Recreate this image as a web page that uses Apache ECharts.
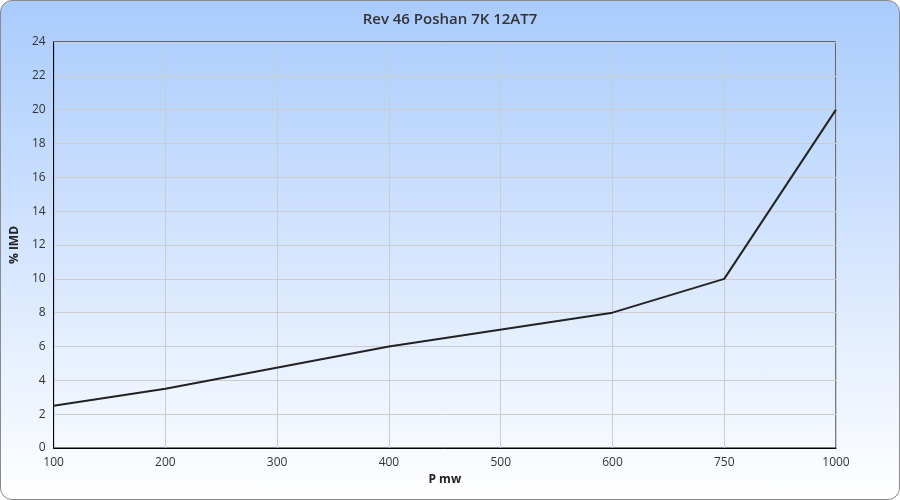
<!DOCTYPE html>
<html><head><meta charset="utf-8">
<script src="https://cdn.jsdelivr.net/npm/echarts@6/dist/echarts.min.js"></script>
<style>
html,body{margin:0;padding:0;background:#fff;}
#wrap{position:absolute;left:0;top:0;width:898px;height:498px;border:1px solid #8a8a8a;border-radius:12px;background:linear-gradient(to bottom,#a9cbfd 0%,#ffffff 100%);overflow:hidden;}
#c{width:898px;height:498px;}
</style></head><body>
<div id="wrap"><div id="c"></div></div>
<script>
var categories = ['100','200','300','400','500','600','750','1000'];
var imdValues = [2.5, 3.5, null, 6, null, 8, 10, 20];
var chart = echarts.init(document.getElementById('c'));
var font = '"Open Sans", sans-serif';
chart.setOption({
  backgroundColor: 'transparent',
  animation: false,
  title: { text: 'Rev 46 Poshan 7K 12AT7', left: 'center', top: 6,
    textStyle: { fontFamily: font, fontSize: 15, fontWeight: 600, color: '#333' } },
  grid: { left: 50, right: 63, top: 41, bottom: 51, show: true, borderColor: '#000', borderWidth: 1 },
  xAxis: { type: 'category', data: categories, boundaryGap: false,
    name: 'P mw', nameLocation: 'middle', nameGap: 23,
    nameTextStyle: { fontFamily: font, fontSize: 12, fontWeight: 'bold', color: '#222' },
    axisLine: { show: true, lineStyle: { color: '#000' } }, axisTick: { show: false },
    axisLabel: { fontFamily: font, fontSize: 12, color: '#333', margin: 9 },
    splitLine: { show: true, lineStyle: { color: '#cccccc', width: 1 } } },
  yAxis: { type: 'value', min: 0, max: 24, interval: 2,
    name: '% IMD', nameLocation: 'middle', nameGap: 32,
    nameTextStyle: { fontFamily: font, fontSize: 12, fontWeight: 'bold', color: '#222' },
    axisLine: { show: true, lineStyle: { color: '#000' } }, axisTick: { show: false },
    axisLabel: { fontFamily: font, fontSize: 12, color: '#333', margin: 8 },
    splitLine: { show: true, lineStyle: { color: '#cccccc', width: 1 } } },
  series: [{ type: 'line', data: imdValues, connectNulls: true, showSymbol: false,
    lineStyle: { color: '#222', width: 2 } }]
});
</script></body></html>
